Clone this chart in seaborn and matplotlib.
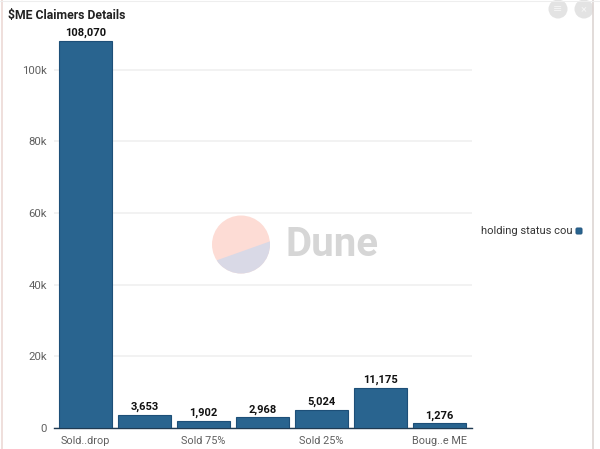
import matplotlib.pyplot as plt
import matplotlib.patches as patches
import seaborn as sns

# data
positions = [0, 1, 2, 3, 4, 5, 6]
claimers = [108070, 3653, 1902, 2968, 5024, 11175, 1276]
tick_labels = ["Sold..drop", "", "Sold 75%", "", "Sold 25%", "", "Boug..e ME"]
y_ticks = [0, 20000, 40000, 60000, 80000, 100000]
y_labels = ["0", "20k", "40k", "60k", "80k", "100k"]

W, H = 600, 449
FONT = "Roboto"
BAR = "#29648f"
EDGE = "#1d4f78"

sns.set_theme(style="white")
plt.rcParams['font.family'] = [FONT, 'DejaVu Sans']

fig = plt.figure(figsize=(W / 100, H / 100), dpi=100)

# axes placed in pixels: x 54-472, y 0 at 428, 110k at 34
ax = fig.add_axes([54 / W, (H - 428) / H, (472 - 54) / W, (428 - 34) / H])
sns.barplot(x=positions, y=claimers, order=positions, color=BAR, saturation=1,
            width=0.9, edgecolor=EDGE, linewidth=0.8, ax=ax, zorder=3)

ax.set_xlim(-0.534, 6.55)
ax.set_ylim(0, 110000)
ax.set_xticks(positions, tick_labels)
ax.set_yticks(y_ticks, y_labels)
ax.tick_params(axis='both', length=0, labelcolor="#606060")
ax.tick_params(axis='x', pad=5.5, labelsize=7.8)
ax.tick_params(axis='y', pad=5, labelsize=8.2)
ax.grid(axis='y', color="#f0f0f0", linewidth=1.2, zorder=0)
ax.set_axisbelow(True)
sns.despine(ax=ax, left=True, top=True, right=True)
ax.spines['bottom'].set_color("#1f3a52")
ax.spines['bottom'].set_linewidth(1.0)

for p, v in zip(positions, claimers):
    ax.annotate(f"{v:,}", (p, v), xytext=(0, 2), textcoords="offset points",
                ha="center", va="bottom", fontsize=8, fontweight="bold", color="#111111")

# overlay in pixel coordinates for title, legend, watermark and frame
ov = fig.add_axes([0, 0, 1, 1], zorder=5)
ov.set_xlim(0, W)
ov.set_ylim(H, 0)
ov.axis("off")

ov.text(8, 15, r"\$ME Claimers Details", fontsize=8.8, fontweight="bold",
        color="#222222", va="center", ha="left")

# legend entry
ov.text(481, 231, "holding status cou", fontsize=8, color="#333333", va="center", ha="left")
ov.add_patch(patches.FancyBboxPatch((576.5, 228.5), 5, 5, boxstyle="round,pad=0.6,rounding_size=1.2",
                                    facecolor=BAR, edgecolor=EDGE, linewidth=0.5))

# watermark
disc = patches.Circle((241, 244.5), 29, facecolor="#fddcd5", edgecolor="none")
ov.add_patch(disc)
lower = patches.Polygon([(212, 262), (271, 241), (271, 275), (212, 275)],
                        facecolor="#d9d9e6", edgecolor="none")
ov.add_patch(lower)
lower.set_clip_path(disc)
ov.text(286, 245, "Dune", fontsize=29, fontweight="bold", color="#d6d6d6", va="center", ha="left")

# toolbar buttons, top right
for cx, sym in [(558, "\u2261"), (584, "\u00d7")]:
    ov.add_patch(patches.Circle((cx, 9), 9.5, facecolor="#e3e3e3", edgecolor="none"))
    ov.text(cx, 9, sym, fontsize=8, color="#f5f5f5", ha="center", va="center")

# screenshot frame
ov.plot([1.5, 1.5], [0, H], color="#ecd9d6", linewidth=1.2)
ov.plot([592.5, 592.5], [0, H], color="#ddd5d3", linewidth=1.2)
ov.plot([0, W], [0.5, 0.5], color="#eeeeee", linewidth=0.8)

fig.savefig("out.png", dpi=100, facecolor="white")
